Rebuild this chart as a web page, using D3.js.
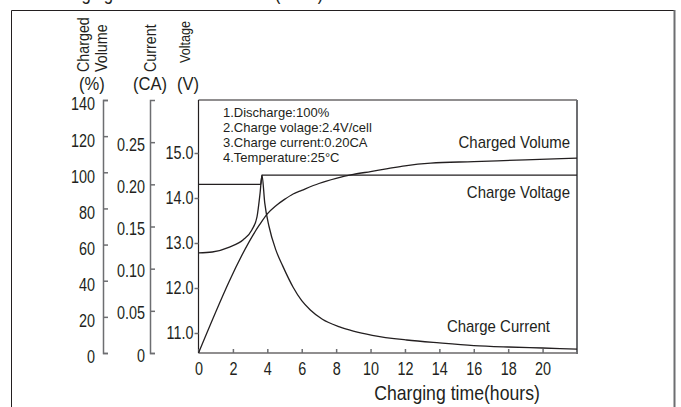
<!DOCTYPE html>
<html>
<head>
<meta charset="utf-8">
<script src="https://cdn.jsdelivr.net/npm/d3@7"></script>
<style>
body{margin:0;background:#fff}
text{font-family:"Liberation Sans",Arial,sans-serif;fill:#231f20}
</style>
</head>
<body>
<div id="chart"></div>
<script>
// values (hours on x)
var volTime  = [0, 3.55, 4.0, 4.5, 5.0, 5.5, 6.0, 7.0, 8.0, 9.0, 10.0, 11.0, 12.0, 13.5, 16, 19, 22];
var volValue = [0, 71, 77, 81.5, 85, 88, 90, 93.8, 96.6, 98.8, 100.4, 102, 103.6, 105.1, 105.9, 106.9, 107.8];

var voltTime  = [0, 0.8, 1.8, 2.6, 3.1, 3.4, 3.58, 3.69, 22];
var voltValue = [12.78, 12.8, 12.91, 13.07, 13.29, 13.58, 14.11, 14.51, 14.51];

var curTime  = [0, 3.62, 3.69, 3.85, 4.1, 4.5, 4.9, 5.5, 6.0, 6.5, 7.2, 8.2, 9.0, 10.1, 12.1, 14, 16, 18, 20, 22];
var curValue = [0.20, 0.20, 0.211, 0.178, 0.150, 0.122, 0.103, 0.078, 0.062, 0.051, 0.040, 0.031, 0.026, 0.021, 0.0154, 0.0119, 0.0088, 0.0071, 0.0059, 0.0047];

var volTicks  = [0, 20, 40, 60, 80, 100, 120, 140];
var curTicks  = [0, 0.05, 0.10, 0.15, 0.20, 0.25];
var voltTicks = [11, 12, 13, 14, 15];
var timeTicks = [0, 2, 4, 6, 8, 10, 12, 14, 16, 18, 20];

var notes = ["1.Discharge:100%", "2.Charge volage:2.4V/cell", "3.Charge current:0.20CA", "4.Temperature:25\u00b0C"];

var W = 681, H = 407;
var top_ = 100, bot = 353, left = 198.5, right = 577;

var svg = d3.select("#chart").append("svg").attr("width", W).attr("height", H);

var x = d3.scaleLinear().domain([0, 22]).range([left, right]);
var yVol = d3.scaleLinear().domain([0, 140]).range([bot, top_]);
var yCur = d3.scaleLinear().domain([0, 0.30]).range([bot, top_]);
var yVolt = d3.scaleLinear().domain([11, 15]).range([333, 153]);

var grey = "#6d6e71", ink = "#231f20";

// squeeze text horizontally (condensed look)
function squeeze(sel, k){
	sel.each(function(){
		var w = this.getComputedTextLength();
		d3.select(this).attr("textLength", w*k).attr("lengthAdjust", "spacingAndGlyphs");
	});
}

// title (cut by the top edge, as in the source) + outer frame
svg.append("text").attr("x", 45).attr("y", 0).attr("font-size", 20)
	.text("Charging Characteristic Curve (25\u00b0C)").call(squeeze, 0.84);
svg.append("path").attr("d", "M11.5,407V10.5H674").style("fill", "none").style("stroke", ink).style("stroke-width", 1);
svg.append("line").attr("x1", 674.5).attr("x2", 674.5).attr("y1", 10).attr("y2", 407).style("stroke", grey).style("stroke-width", 2);

// plot box
svg.append("path").attr("d", "M" + left + "," + top_ + "H" + right + "M" + left + "," + bot + "H" + right + "M" + left + "," + top_ + "V" + bot)
	.style("fill", "none").style("stroke", ink).style("stroke-width", 1.2);
svg.append("line").attr("x1", right).attr("x2", right).attr("y1", top_).attr("y2", bot + 1).style("stroke", grey).style("stroke-width", 2);

function styleAxis(g, size){
	g.attr("font-family", null).attr("font-size", size);
	g.selectAll("path,line").style("stroke", grey).style("stroke-width", 1.5);
	g.selectAll("text").style("fill", ink).call(squeeze, 0.8);
}

// charged volume axis
svg.append("g").attr("transform", "translate(103,0)")
	.call(d3.axisLeft(yVol).tickValues(volTicks).tickSize(-5).tickSizeOuter(-5).tickPadding(8))
	.call(styleAxis, 18)
	.selectAll("text").attr("dy", "0.55em");

// current axis
svg.append("g").attr("transform", "translate(150,0)")
	.call(d3.axisLeft(yCur).tickValues(curTicks).tickSize(-5).tickSizeOuter(-5).tickPadding(5)
		.tickFormat(function(d){ return d === 0 ? "0" : d3.format(".2f")(d); }))
	.call(styleAxis, 18)
	.selectAll("text").attr("dy", "0.45em");

// voltage axis
var gv = svg.append("g").attr("transform", "translate(" + left + ",0)")
	.call(d3.axisLeft(yVolt).tickValues(voltTicks).tickSize(4).tickPadding(1).tickFormat(d3.format(".1f")))
	.call(styleAxis, 18);
gv.select(".domain").remove();

// time axis
var gx = svg.append("g").attr("transform", "translate(0," + bot + ")")
	.call(d3.axisBottom(x).tickValues(timeTicks).tickSize(-4).tickPadding(9))
	.call(styleAxis, 18);
gx.select(".domain").remove();

// axis titles
svg.append("text").attr("x", 457).attr("y", 400).attr("text-anchor", "middle").attr("font-size", 21)
	.text("Charging time(hours)").call(squeeze, 0.84);

var vt = [["Charged", 89, 72, 17], ["Volume", 107, 72, 17], ["Current", 156, 72, 17], ["Voltage", 190, 63, 15]];
svg.selectAll(".vtitle").data(vt).enter().append("text")
	.attr("class", "vtitle")
	.attr("transform", function(d){ return "translate(" + d[1] + "," + d[2] + ")rotate(-90)"; })
	.attr("font-size", function(d){ return d[3]; })
	.text(function(d){ return d[0]; })
	.call(squeeze, 0.84);

var units = [["(%)", 92], ["(CA)", 150], ["(V)", 188]];
svg.selectAll(".unit").data(units).enter().append("text")
	.attr("class", "unit")
	.attr("x", function(d){ return d[1]; }).attr("y", 90)
	.attr("text-anchor", "middle").attr("font-size", 18)
	.text(function(d){ return d[0]; })
	.call(squeeze, 0.92);

// conditions
svg.selectAll(".note").data(notes).enter().append("text")
	.attr("class", "note")
	.attr("x", 223).attr("y", function(d, i){ return 117 + i*15; })
	.attr("font-size", 13)
	.text(function(d){ return d; });

// curves
function series(t, v){ return t.map(function(d, i){ return [d, v[i]]; }); }
var curve = d3.curveMonotoneX;
var lines = [
	{ data: series(volTime, volValue), y: yVol },
	{ data: series(voltTime, voltValue), y: yVolt },
	{ data: series(curTime, curValue), y: yCur }
];
svg.selectAll(".trace").data(lines).enter().append("path")
	.attr("class", "trace")
	.attr("d", function(s){
		return d3.line().curve(curve).x(function(d){ return x(d[0]); }).y(function(d){ return s.y(d[1]); })(s.data);
	})
	.style("fill", "none")
	.style("stroke", ink)
	.style("stroke-width", 1.3);

// curve labels
var labels = [["Charged Volume", 570, 148], ["Charge Voltage", 570, 198], ["Charge Current", 550, 332]];
svg.selectAll(".lab").data(labels).enter().append("text")
	.attr("class", "lab")
	.attr("x", function(d){ return d[1]; }).attr("y", function(d){ return d[2]; })
	.attr("text-anchor", "end").attr("font-size", 17)
	.text(function(d){ return d[0]; })
	.call(squeeze, 0.88);
</script>
</body>
</html>
